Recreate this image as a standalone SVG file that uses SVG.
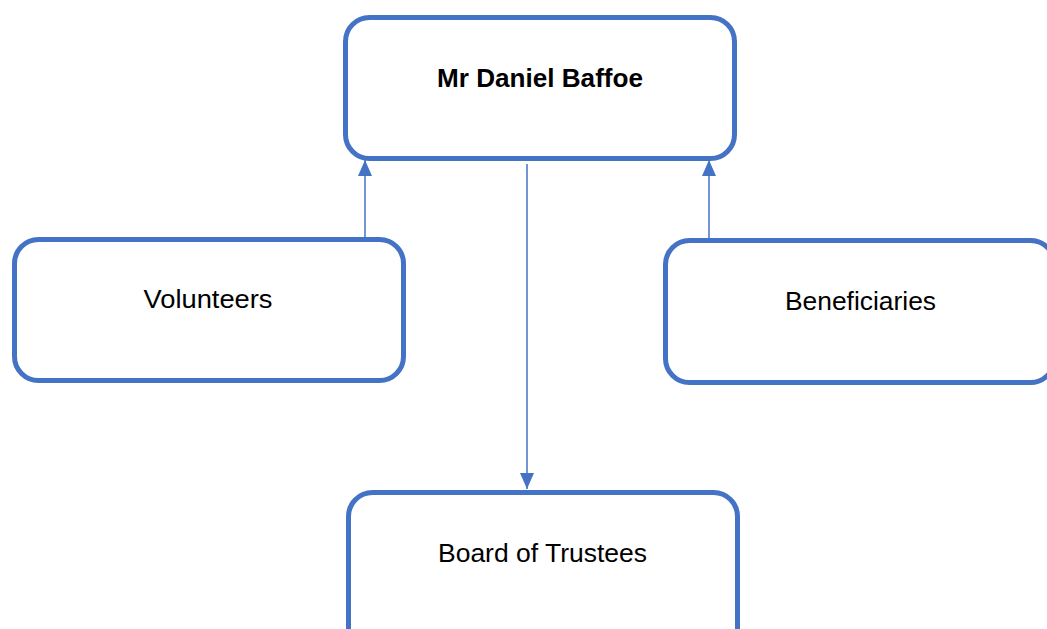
<svg xmlns="http://www.w3.org/2000/svg" width="1047" height="629" viewBox="0 0 1047 629">
<style>
.box{fill:#fff;stroke:#4472C4;stroke-width:5}
.lbl{font-family:"Liberation Sans",Arial,sans-serif;fill:#000;text-anchor:middle}
.conn{stroke:#4472C4;stroke-width:1.5;fill:none}
</style>
<defs>
<marker id="ah" viewBox="0 0 16 14" refX="16" refY="7" markerWidth="16" markerHeight="14" markerUnits="userSpaceOnUse" orient="auto">
<path d="M0,0 L16,7 L0,14 z" fill="#4472C4"/>
</marker>
</defs>
<rect width="1047" height="629" fill="#fff"/>
<g id="connectors">
<line class="conn" x1="365" y1="238" x2="365" y2="160" marker-end="url(#ah)"/>
<line class="conn" x1="709" y1="239" x2="709" y2="160" marker-end="url(#ah)"/>
<line class="conn" x1="527" y1="164" x2="527" y2="489" marker-end="url(#ah)"/>
</g>
<g id="node-daniel">
<rect class="box" x="345.5" y="17.5" width="389" height="141" rx="24"/>
<text class="lbl" x="540" y="87" font-size="25" font-weight="bold" textLength="206" lengthAdjust="spacingAndGlyphs">Mr Daniel Baffoe</text>
</g>
<g id="node-volunteers">
<rect class="box" x="14.5" y="239.5" width="389" height="141" rx="24"/>
<text class="lbl" x="208" y="308" font-size="26" textLength="129" lengthAdjust="spacingAndGlyphs">Volunteers</text>
</g>
<g id="node-beneficiaries">
<rect class="box" x="665.5" y="240.5" width="389" height="142" rx="24"/>
<text class="lbl" x="860.5" y="310" font-size="26" textLength="151" lengthAdjust="spacingAndGlyphs">Beneficiaries</text>
</g>
<g id="node-board">
<rect class="box" x="348.5" y="492.5" width="389" height="160" rx="24"/>
<text class="lbl" x="542.5" y="562" font-size="26" textLength="209" lengthAdjust="spacingAndGlyphs">Board of Trustees</text>
</g>
</svg>
